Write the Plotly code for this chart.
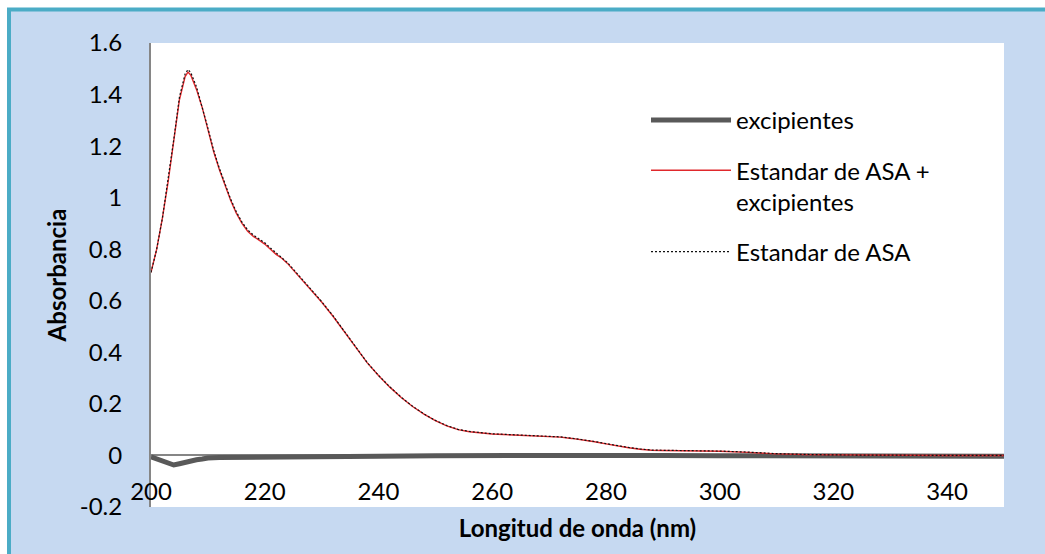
import plotly.graph_objects as go

# Wavelength grid (nm) for the two ASA spectra
wl_asa = [200, 201, 202, 203, 204, 205, 206, 206.5, 207, 208, 209, 210, 211, 212,
          213, 214, 215, 216, 217, 218, 219, 220, 221, 222, 223, 224, 225, 226,
          227, 228, 229, 230, 232, 234, 236, 238, 240, 242, 244, 246, 248, 250,
          252, 254, 256, 258, 260, 262, 264, 266, 268, 270, 272, 274, 276, 278,
          280, 282, 284, 286, 288, 290, 295, 300, 305, 310, 315, 320, 330, 340, 350]

# Absorbance: ASA standard + excipients
abs_mezcla = [0.71, 0.80, 0.92, 1.06, 1.22, 1.38, 1.47, 1.487, 1.475, 1.42, 1.35,
              1.265, 1.18, 1.11, 1.05, 0.99, 0.94, 0.90, 0.87, 0.85, 0.835, 0.82,
              0.80, 0.78, 0.765, 0.745, 0.72, 0.695, 0.67, 0.645, 0.62, 0.595,
              0.54, 0.48, 0.42, 0.36, 0.31, 0.265, 0.225, 0.19, 0.16, 0.135, 0.115,
              0.10, 0.092, 0.087, 0.083, 0.081, 0.079, 0.078, 0.077, 0.075, 0.071,
              0.066, 0.060, 0.053, 0.045, 0.037, 0.030, 0.024, 0.020, 0.019, 0.018,
              0.016, 0.012, 0.006, 0.003, 0.002, 0.001, 0.0, 0.0]

# Absorbance: ASA standard alone
abs_asa = [0.71, 0.80, 0.92, 1.065, 1.225, 1.39, 1.48, 1.497, 1.485, 1.43, 1.355,
           1.27, 1.185, 1.115, 1.055, 0.995, 0.945, 0.905, 0.875, 0.855, 0.84,
           0.825, 0.805, 0.785, 0.768, 0.748, 0.723, 0.698, 0.672, 0.647, 0.622,
           0.597, 0.542, 0.482, 0.421, 0.361, 0.311, 0.266, 0.226, 0.191, 0.161,
           0.136, 0.116, 0.101, 0.093, 0.088, 0.084, 0.082, 0.080, 0.079, 0.078,
           0.076, 0.072, 0.067, 0.061, 0.054, 0.046, 0.038, 0.031, 0.025, 0.021,
           0.020, 0.019, 0.017, 0.013, 0.007, 0.004, 0.002, 0.001, 0.0, 0.0]

# Excipients-only spectrum
wl_exc = [200, 201, 202, 203, 204, 205, 206, 207, 208, 209, 210, 212, 215, 220,
          230, 240, 250, 260, 270, 280, 290, 300, 310, 320, 330, 340, 350]
abs_exc = [-0.005, -0.012, -0.020, -0.030, -0.037, -0.032, -0.026, -0.024, -0.017,
           -0.014, -0.010, -0.008, -0.007, -0.006, -0.005, -0.003, -0.001, 0.0,
           0.0, 0.0, 0.0, -0.001, -0.002, -0.003, -0.003, -0.003, -0.003]

y_ticks = [-0.2, 0, 0.2, 0.4, 0.6, 0.8, 1, 1.2, 1.4, 1.6]
y_tick_text = ["-0.2", "0", "0.2", "0.4", "0.6", "0.8", "1", "1.2", "1.4", "1.6"]
x_ticks = [200, 220, 240, 260, 280, 300, 320, 340]

FONT = "Lato, Carlito, Calibri, sans-serif"
FS = 24
W, H = 1045, 554
ML, MR, MT, MB = 151, 41, 43, 47
PW, PH = W - ML - MR, H - MT - MB


def px_x(p):
    return (p - ML) / PW


def px_y(p):
    return (H - MB - p) / PH


fig = go.Figure()

fig.add_trace(go.Scatter(
    x=wl_exc, y=abs_exc, mode="lines", name="excipientes",
    legendgroup="a",
    line=dict(color="#595959", width=5),
))
fig.add_trace(go.Scatter(
    x=wl_asa, y=abs_mezcla, mode="lines", name="Estandar de ASA +<br>excipientes",
    legendgroup="b",
    line=dict(color="#e0282c", width=1.4),
))
fig.add_trace(go.Scatter(
    x=wl_asa, y=abs_asa, mode="lines", name="Estandar de ASA",
    legendgroup="c",
    line=dict(color="#111111", width=1.2, dash="2px,2px"),
))

# Chart-area panel with teal frame, then the white plot area on top of it
fig.add_shape(
    type="rect", xref="paper", yref="paper", layer="below",
    x0=px_x(9), x1=px_x(1080), y0=px_y(600), y1=px_y(9.5),
    fillcolor="#c6d9f1", line=dict(color="#4bacc6", width=4),
)
fig.add_shape(
    type="rect", xref="paper", yref="paper", layer="below",
    x0=0, x1=1, y0=0, y1=1,
    fillcolor="white", line=dict(width=0),
)

fig.update_layout(
    width=W, height=H,
    margin=dict(l=ML, r=MR, t=MT, b=MB, autoexpand=False),
    paper_bgcolor="white",
    plot_bgcolor="rgba(0,0,0,0)",
    font=dict(family=FONT, size=FS, color="#000000"),
    showlegend=True,
    legend=dict(
        x=px_x(646), y=px_y(98), xanchor="left", yanchor="top",
        bgcolor="rgba(0,0,0,0)", traceorder="grouped", tracegroupgap=16,
        itemwidth=80, valign="top",
        font=dict(family=FONT, size=FS, color="#000000"),
    ),
    xaxis=dict(
        range=[200, 350], tickvals=x_ticks, showgrid=False, zeroline=False,
        showline=False, ticks="", anchor="free", position=px_y(475),
        tickfont=dict(family=FONT, size=FS),
        title=dict(text="<b>Longitud de onda (nm)</b>", standoff=16,
                   font=dict(family=FONT, size=FS)),
    ),
    yaxis=dict(
        range=[-0.2, 1.6], tickvals=y_ticks, ticktext=y_tick_text,
        showgrid=False, zeroline=True, zerolinecolor="#868686", zerolinewidth=1.5,
        showline=True, linecolor="#868686", linewidth=2, ticks="",
        ticklabelstandoff=22,
        tickfont=dict(family=FONT, size=FS),
        title=dict(text="<b>Absorbancia</b>", standoff=6,
                   font=dict(family=FONT, size=FS)),
    ),
)

fig.write_html("out.html")
